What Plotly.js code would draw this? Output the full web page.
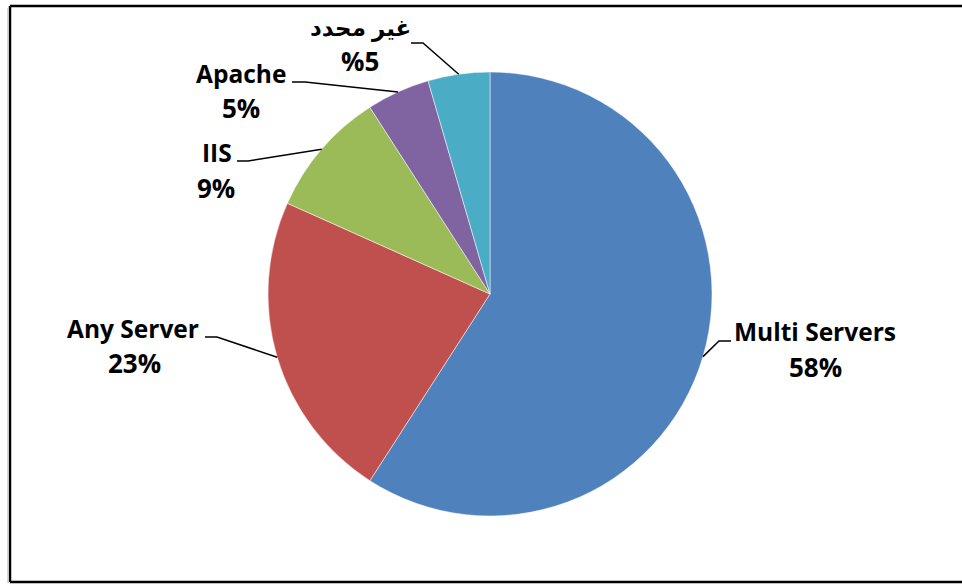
<!DOCTYPE html>
<html>
<head>
<meta charset="utf-8">
<script src="https://cdn.plot.ly/plotly-3.0.1.min.js"></script>
<style>html,body{margin:0;padding:0;background:#fff;}#chart{width:962px;height:585px;}</style>
</head>
<body>
<div id="chart"></div>
<script>
// ---- data ----
const categories = ["Multi Servers", "Any Server", "IIS", "Apache", "غير محدد"];
const values = [59.1, 22.6, 9.2, 4.6, 4.5];
const percentLabels = ["58%", "23%", "9%", "5%", "%5"];
const colors = ["#4F81BD", "#C0504D", "#9BBB59", "#8064A2", "#4BACC6"];

// ---- layout constants (pixels) ----
const W = 962, H = 585;
const CX = 490, CY = 294, R = 222;
// label placement: name centre, percent centre, elbow start (x,y) and elbow end x
const labelPos = [
  {nx: 815, ny: 331, px: 815, py: 367, ex0: 731, ex1: 719, ey: 341, fs: 24.5},
  {nx: 133, ny: 328, px: 134, py: 363, ex0: 205, ex1: 217, ey: 337, fs: 24.5},
  {nx: 217, ny: 153, px: 216, py: 188, ex0: 237, ex1: 248, ey: 161, fs: 24.5},
  {nx: 241, ny: 73,  px: 241, py: 108, ex0: 292, ex1: 305, ey: 82,  fs: 24.5},
  {nx: 360, ny: 27,  px: 360, py: 61,  ex0: 411, ex1: 423, ey: 43,  fs: 23}
];

const fx = px => px / W;
const fy = py => 1 - py / H;
const fontFam = '"Open Sans", "DejaVu Sans", sans-serif';

const total = values.reduce((a, b) => a + b, 0);
let cum = 0;
const annotations = [];
const shapes = [];
values.forEach((v, i) => {
  const mid = (cum + v / 2) / total * 2 * Math.PI;
  cum += v;
  const rx = CX + R * Math.sin(mid);
  const ry = CY - R * Math.cos(mid);
  const p = labelPos[i];
  annotations.push({
    xref: 'paper', yref: 'paper', x: fx(p.nx), y: fy(p.ny),
    xanchor: 'center', yanchor: 'middle', showarrow: false,
    text: '<b>' + categories[i] + '</b>',
    font: {family: fontFam, size: p.fs, color: '#000'}
  });
  annotations.push({
    xref: 'paper', yref: 'paper', x: fx(p.px), y: fy(p.py),
    xanchor: 'center', yanchor: 'middle', showarrow: false,
    text: '<b>' + percentLabels[i] + '</b>',
    font: {family: fontFam, size: 26, color: '#000'}
  });
  shapes.push({
    type: 'path', xref: 'paper', yref: 'paper',
    path: `M ${fx(p.ex0)},${fy(p.ey)} L ${fx(p.ex1)},${fy(p.ey)} L ${fx(rx)},${fy(ry)}`,
    line: {color: '#000', width: 1.5}
  });
});

// frame
shapes.push({type: 'line', xref: 'paper', yref: 'paper', x0: fx(10), x1: 1.02, y0: fy(6), y1: fy(6), line: {color: '#000', width: 2.5}});
shapes.push({type: 'line', xref: 'paper', yref: 'paper', x0: fx(10), x1: fx(10), y0: fy(6), y1: fy(582), line: {color: '#000', width: 2.5}});
shapes.push({type: 'line', xref: 'paper', yref: 'paper', x0: fx(10), x1: 1.02, y0: fy(582), y1: fy(582), line: {color: '#000', width: 2.5}});
shapes.push({type: 'line', xref: 'paper', yref: 'paper', x0: fx(8), x1: fx(8), y0: fy(8), y1: fy(583), line: {color: '#c8c8c8', width: 1.5}});

const trace = {
  type: 'pie',
  labels: categories,
  values: values,
  sort: false,
  direction: 'clockwise',
  rotation: 0,
  textinfo: 'none',
  hoverinfo: 'label+percent',
  marker: {colors: colors, line: {color: '#ffffff', width: 0.5}},
  domain: {x: [fx(CX - R), fx(CX + R)], y: [fy(CY + R), fy(CY - R)]},
  showlegend: false
};

const layout = {
  width: W, height: H,
  margin: {l: 0, r: 0, t: 0, b: 0},
  paper_bgcolor: '#fff',
  showlegend: false,
  annotations: annotations,
  shapes: shapes
};

Plotly.newPlot('chart', [trace], layout, {displayModeBar: false, staticPlot: true});
</script>
</body>
</html>
